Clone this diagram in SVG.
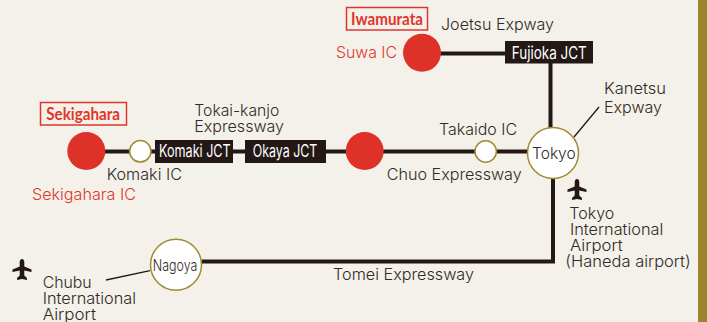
<svg xmlns="http://www.w3.org/2000/svg" width="707" height="322" viewBox="0 0 707 322">
<style>
text{font-family:Inter,"Noto Sans",sans-serif;font-size:16px;fill:#2f2a27;font-weight:300}
.red{fill:#e0352b}
.b{font-family:Lato,"Noto Sans",sans-serif;font-weight:700;font-size:16.500px;fill:#e0352b}
.j{fill:#fff;font-weight:400;font-size:17px}
.road{stroke:#231815;stroke-width:4;fill:none}
.thin{stroke:#231815;stroke-width:1.3;fill:none}
.box{fill:#231815}
.tag{fill:none;stroke:#e0352b;stroke-width:1.5}
.rc{fill:#de3127}
.wc{fill:#fff;stroke:#a08a35;stroke-width:1.5}
</style>
<defs>
<path id="plane" d="M0-11C1.500-11 2.300-9.500 2.300-8L2.300-3.500L9.500-.5L9.500 2L2.300 .5L2.300 5.500L5 8L5 10L0 9L-5 10L-5 8L-2.300 5.500L-2.300 .5L-9.500 2L-9.500-.5L-2.300-3.500L-2.300-8C-2.300-9.500-1.500-11 0-11Z" fill="#231815"/>
</defs>
<rect width="707" height="322" fill="#f4f1ea"/>
<rect x="698" width="9" height="322" fill="#9d8530"/>
<g id="connectors">
<path class="road" d="M105 151.500H155M233 151.500H245M326 151.500H527"/>
<path class="road" d="M440 53.500H505M550.500 63V128"/>
<path class="road" d="M553 179V261.500H202"/>
<path class="thin" d="M599 107L574 137M106 280L150 270.700"/>
</g>
<g id="iwamurata"><rect class="tag" x="346.500" y="7.500" width="81" height="22.500"/><text class="b" x="351" y="24.500" textLength="72" lengthAdjust="spacingAndGlyphs">Iwamurata</text></g>
<g id="suwa"><circle class="rc" cx="422" cy="52.700" r="19"/><text class="red" x="336" y="58" textLength="61" lengthAdjust="spacingAndGlyphs">Suwa IC</text></g>
<g id="joetsu"><text x="441" y="30" textLength="113" lengthAdjust="spacingAndGlyphs">Joetsu Expway</text></g>
<g id="fujioka"><rect class="box" x="505" y="41" width="88" height="22.500"/><text class="j" x="511.700" y="59.300" textLength="75" lengthAdjust="spacingAndGlyphs">Fujioka JCT</text></g>
<g id="kanetsu"><text x="604" y="94" textLength="62" lengthAdjust="spacingAndGlyphs">Kanetsu</text><text x="604" y="112.500" textLength="58" lengthAdjust="spacingAndGlyphs">Expway</text></g>
<g id="takaido"><circle class="wc" cx="485.700" cy="151.500" r="10.700"/><text x="439" y="135" textLength="78" lengthAdjust="spacingAndGlyphs">Takaido IC</text></g>
<g id="chuo"><text x="386.700" y="180" textLength="135" lengthAdjust="spacingAndGlyphs">Chuo Expressway</text></g>
<g id="tokyo"><circle class="wc" cx="553" cy="153" r="25.500"/><text x="532" y="158.500" textLength="43.700" lengthAdjust="spacingAndGlyphs">Tokyo</text></g>
<g id="red-mid"><circle class="rc" cx="364.700" cy="151" r="19"/></g>
<g id="okaya"><rect class="box" x="245" y="140" width="81" height="23"/><text class="j" x="252.700" y="157.300" textLength="64.600" lengthAdjust="spacingAndGlyphs">Okaya JCT</text></g>
<g id="komaki-jct"><rect class="box" x="155" y="140" width="78" height="23"/><text class="j" x="159" y="157.300" textLength="71.700" lengthAdjust="spacingAndGlyphs">Komaki JCT</text></g>
<g id="tokai"><text x="194.300" y="116" textLength="85" lengthAdjust="spacingAndGlyphs">Tokai-kanjo</text><text x="194.300" y="132.300" textLength="89.700" lengthAdjust="spacingAndGlyphs">Expressway</text></g>
<g id="komaki-ic"><circle class="wc" cx="140.300" cy="151.300" r="10.700"/><text x="106.700" y="180" textLength="75.300" lengthAdjust="spacingAndGlyphs">Komaki IC</text></g>
<g id="sekigahara-tag"><rect class="tag" x="40.500" y="102.500" width="86" height="22.500"/><text class="b" x="46.300" y="120" textLength="73.700" lengthAdjust="spacingAndGlyphs">Sekigahara</text></g>
<g id="sekigahara"><circle class="rc" cx="86.300" cy="151" r="19"/><text class="red" x="32" y="200" textLength="104" lengthAdjust="spacingAndGlyphs">Sekigahara IC</text></g>
<g id="haneda"><use href="#plane" x="577" y="190"/><text x="569.300" y="219.300" textLength="45" lengthAdjust="spacingAndGlyphs">Tokyo</text><text x="570" y="235" textLength="93.300" lengthAdjust="spacingAndGlyphs">International</text><text x="570" y="251" textLength="52.700" lengthAdjust="spacingAndGlyphs">Airport</text><text x="565.300" y="266.700" textLength="125.400" lengthAdjust="spacingAndGlyphs">(Haneda airport)</text></g>
<g id="tomei"><text x="333" y="280" textLength="141" lengthAdjust="spacingAndGlyphs">Tomei Expressway</text></g>
<g id="nagoya"><circle class="wc" cx="176" cy="264.700" r="25.500"/><text x="152.700" y="270.700" textLength="44.600" lengthAdjust="spacingAndGlyphs">Nagoya</text></g>
<g id="chubu"><use href="#plane" x="22" y="270"/><text x="42.700" y="288" textLength="49" lengthAdjust="spacingAndGlyphs">Chubu</text><text x="42.700" y="304" textLength="93.300" lengthAdjust="spacingAndGlyphs">International</text><text x="42.700" y="320" textLength="53.300" lengthAdjust="spacingAndGlyphs">Airport</text></g>
</svg>
